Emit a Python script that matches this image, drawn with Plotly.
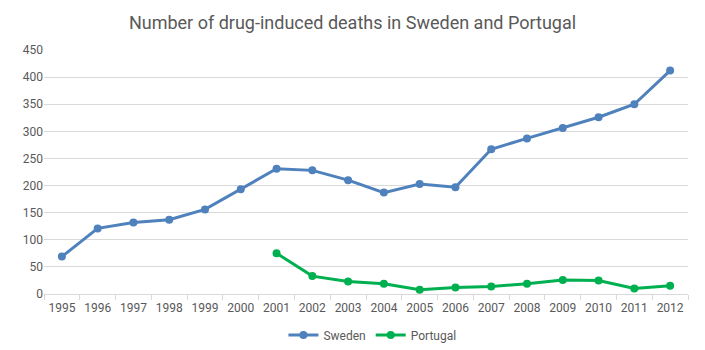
import plotly.graph_objects as go

years = [str(y) for y in range(1995, 2013)]
sweden = [69, 121, 132, 137, 156, 193, 231, 228, 210, 187, 203, 197, 267, 287, 306, 326, 350, 412]
portugal = [None, None, None, None, None, None, 75, 33, 23, 19, 8, 12, 14, 19, 26, 25, 10, 15]

font_family = "Roboto, 'Liberation Sans Narrow', Arial, sans-serif"
text_color = "#595959"

fig = go.Figure()
fig.add_trace(go.Scatter(
    x=years, y=sweden, name="Sweden", mode="lines+markers",
    line=dict(color="#4F81BD", width=3),
    marker=dict(color="#4F81BD", size=8, symbol="circle"),
))
fig.add_trace(go.Scatter(
    x=years, y=portugal, name="Portugal", mode="lines+markers",
    line=dict(color="#00B050", width=3),
    marker=dict(color="#00B050", size=8, symbol="circle"),
    connectgaps=False,
))

fig.update_layout(
    width=705, height=350,
    margin=dict(l=44, r=17, t=50, b=56, autoexpand=False),
    paper_bgcolor="white", plot_bgcolor="white",
    title=dict(text="Number of drug-induced deaths in Sweden and Portugal",
               x=0.5, xanchor="center", y=0.935, yanchor="middle",
               font=dict(family=font_family, size=18, color=text_color)),
    font=dict(family=font_family, size=12, color=text_color),
    showlegend=True,
    legend=dict(orientation="h", x=0.51, xanchor="center",
                yref="container", y=0.043, yanchor="middle",
                font=dict(size=12, color=text_color), itemwidth=30),
    xaxis=dict(type="category", range=[-0.5, 17.5], showgrid=False, automargin=False,
               showline=True, linecolor="#d9d9d9", linewidth=1,
               ticks="outside", tickson="boundaries", ticklen=5, tickcolor="#d9d9d9",
               tickangle=0, ticklabelstandoff=3,
               tickfont=dict(size=12, color=text_color)),
    yaxis=dict(range=[0, 450], dtick=50, showgrid=True, gridcolor="#d9d9d9", gridwidth=1,
               zeroline=False, showline=False, ticks="", automargin=False,
               tickfont=dict(size=12, color=text_color)),
)

fig.write_html("out.html")
